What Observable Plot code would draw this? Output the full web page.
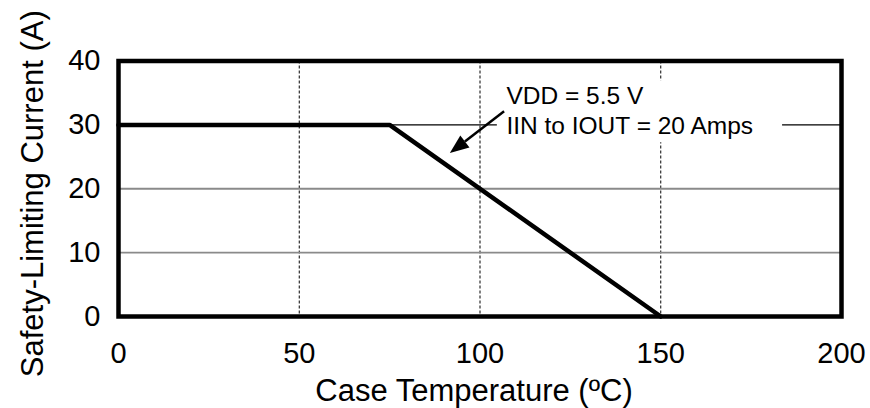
<!DOCTYPE html>
<html><head><meta charset="utf-8">
<script src="https://cdn.jsdelivr.net/npm/d3@7"></script>
<script src="https://cdn.jsdelivr.net/npm/@observablehq/plot@0.6"></script>
<style>body{margin:0;background:#fff} svg{display:block}</style>
</head><body><div id="chart"></div>
<script>
// Data
const temperature = [0, 75, 150];          // Case temperature (ºC)
const current = [30, 30, 0];               // Safety-limiting current (A)
const xTicks = [0, 50, 100, 150, 200];
const yTicks = [0, 10, 20, 30, 40];
const dashedGridX = [50, 100, 150];
const grayGridY = [10, 20];
const blackGridY = [30];
const noteLines = ["VDD = 5.5 V", "IIN to IOUT = 20 Amps"];
const noteLineY = [33.3, 28.6];
const xTitle = "Case Temperature (ºC)";
const yTitle = "Safety-Limiting Current (A)";

const curve = temperature.map((t, i) => ({t, c: current[i]}));
const notes = noteLines.map((text, i) => ({text, y: noteLineY[i]}));
const arrowFrom = [106.8, 32.05];
const arrowTo = [91.8, 25.5];

function arrowMark(index, scales) {
  const x = scales.x, y = scales.y;
  const x0 = x(arrowFrom[0]), y0 = y(arrowFrom[1]);
  const x1 = x(arrowTo[0]), y1 = y(arrowTo[1]);
  const a = Math.atan2(y1 - y0, x1 - x0);
  const L = 19, W = 7.5;
  const bx = x1 - L * Math.cos(a), by = y1 - L * Math.sin(a);
  const g = d3.create("svg:g");
  g.append("line").attr("x1", x0).attr("y1", y0).attr("x2", bx).attr("y2", by)
    .attr("stroke", "black").attr("stroke-width", 2.5);
  g.append("path")
    .attr("d", `M${x1},${y1}L${bx + W * Math.sin(a)},${by - W * Math.cos(a)}L${bx - W * Math.sin(a)},${by + W * Math.cos(a)}Z`)
    .attr("fill", "black");
  return g.node();
}

const chart = Plot.plot({
  width: 870,
  height: 408,
  marginLeft: 118,
  marginRight: 29,
  marginTop: 60.5,
  marginBottom: 92,
  style: {fontFamily: "'Liberation Sans', Arial, sans-serif", color: "black", background: "white", overflow: "visible"},
  x: {domain: [0, 200]},
  y: {domain: [0, 40]},
  marks: [
    Plot.ruleX(dashedGridX, {stroke: "black", strokeWidth: 1, strokeDasharray: "3,2"}),
    Plot.ruleY(grayGridY, {stroke: "#8a8a8a", strokeWidth: 1.8}),
    Plot.ruleY(blackGridY, {stroke: "black", strokeWidth: 1.2}),
    Plot.rect([0], {x1: 104.8, x2: 183.7, y1: 27.2, y2: 36.9, fill: "white"}),
    Plot.text(notes, {x: 107.3, y: "y", text: "text", textAnchor: "start", lineAnchor: "bottom", fontSize: 24.5, fill: "black"}),
    Plot.line(curve, {x: "t", y: "c", stroke: "black", strokeWidth: 4.5, strokeLinejoin: "miter"}),
    arrowMark,
    Plot.frame({stroke: "black", strokeWidth: 4.5}),
    Plot.axisX({ticks: xTicks, tickSize: 0, tickPadding: 26, fontSize: 29, label: null}),
    Plot.axisY({ticks: yTicks, tickSize: 0, tickPadding: 18, fontSize: 29, label: null}),
    Plot.text([xTitle], {frameAnchor: "bottom", textAnchor: "middle", dx: -6, dy: 84, lineAnchor: "bottom", fontSize: 31, fill: "black"}),
    Plot.text([yTitle], {frameAnchor: "left", textAnchor: "middle", dx: -76, dy: 5, rotate: -90, lineAnchor: "bottom", fontSize: 31, fill: "black"})
  ]
});
document.getElementById("chart").appendChild(chart);
</script>
</body></html>
